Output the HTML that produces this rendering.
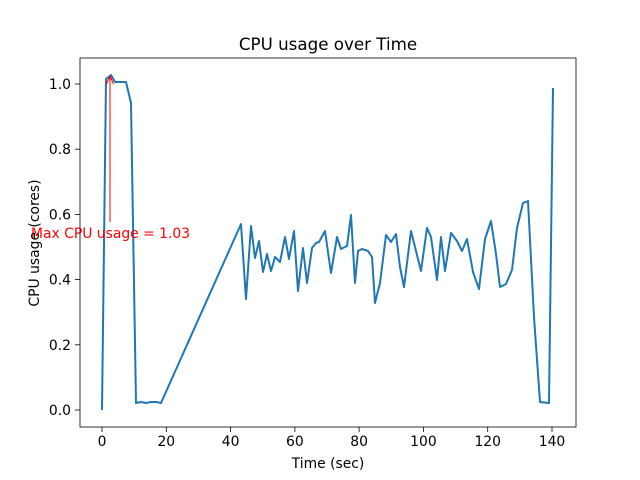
<!DOCTYPE html>
<html><head><meta charset="utf-8"><style>body{margin:0;background:#fff}svg{display:block}</style></head>
<body>
<svg width="640" height="480" xmlns="http://www.w3.org/2000/svg" font-family="'DejaVu Sans', sans-serif">
<rect width="640" height="480" fill="#fff"/>
<polyline fill="none" stroke="#1f77b4" stroke-width="2" stroke-linejoin="round" points="102,410 106,79 111,75 115,82 120,82 126,82 131,103 136,403 141,402 146,403 151,402 156,402 161,403 241,224 246,299 251,226 255,258 259,241 263,272 267,254 271,271 275,257 280,262 285,237 289,259 294,231 298,291 303,248 307,283 312,248 316,243 319,242 325,231 331,273 337,237 341,249 347,246 351,215 355,283 358,251 362,249 368,251 372,257 375,303 380,283 386,235 391,242 396,234 400,267 404,287 411,231 416,251 421,271 427,228 431,237 437,280 441,237 445,271 451,233 457,241 462,251 467,239 473,272 479,289 485,239 491,221 496,254 500,287 506,284 512,270 517,228 523,203 528,201 534,317 540,402 549,403 553,88"/>
<line x1="110" y1="222" x2="110" y2="77" stroke="red" stroke-width="1"/>
<path d="M106.5,84 L110,76 L113.5,84" fill="none" stroke="red" stroke-width="1"/>
<text x="31" y="238" font-size="13.9" fill="red">Max CPU usage = 1.03</text>
<rect x="80" y="58" width="496" height="369" fill="none" stroke="#000" stroke-width="0.8"/>
<g stroke="#000" stroke-width="0.8">
<line x1="102" y1="427" x2="102" y2="432"/><line x1="166.3" y1="427" x2="166.3" y2="432"/><line x1="230.6" y1="427" x2="230.6" y2="432"/><line x1="294.9" y1="427" x2="294.9" y2="432"/><line x1="359.1" y1="427" x2="359.1" y2="432"/><line x1="423.4" y1="427" x2="423.4" y2="432"/><line x1="487.7" y1="427" x2="487.7" y2="432"/><line x1="552" y1="427" x2="552" y2="432"/>
<line x1="75" y1="410" x2="80" y2="410"/><line x1="75" y1="344.8" x2="80" y2="344.8"/><line x1="75" y1="279.6" x2="80" y2="279.6"/><line x1="75" y1="214.4" x2="80" y2="214.4"/><line x1="75" y1="149.2" x2="80" y2="149.2"/><line x1="75" y1="84" x2="80" y2="84"/>
</g>
<g font-size="13.9" text-anchor="middle">
<text x="102" y="446">0</text><text x="166.3" y="446">20</text><text x="230.6" y="446">40</text><text x="294.9" y="446">60</text><text x="359.1" y="446">80</text><text x="423.4" y="446">100</text><text x="487.7" y="446">120</text><text x="552" y="446">140</text>
</g>
<g font-size="13.9" text-anchor="end">
<text x="71" y="415">0.0</text><text x="71" y="349.8">0.2</text><text x="71" y="284.6">0.4</text><text x="71" y="219.4">0.6</text><text x="71" y="154.2">0.8</text><text x="71" y="89">1.0</text>
</g>
<text x="328" y="468" font-size="13.9" text-anchor="middle">Time (sec)</text>
<text transform="translate(39,243) rotate(-90)" font-size="13.9" text-anchor="middle">CPU usage (cores)</text>
<text x="328" y="50" font-size="16.7" text-anchor="middle">CPU usage over Time</text>
</svg>
</body></html>
